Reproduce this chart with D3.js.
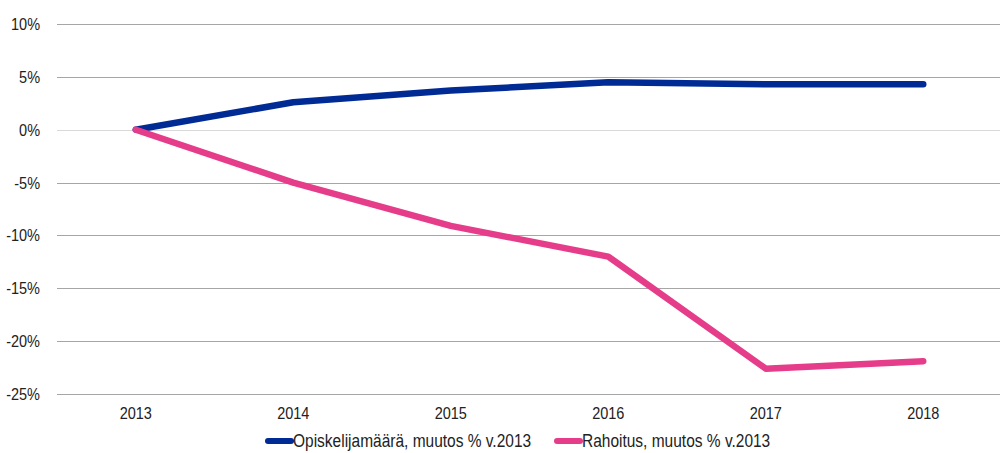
<!DOCTYPE html>
<html>
<head>
<meta charset="utf-8">
<script src="https://cdn.jsdelivr.net/npm/d3@7"></script>
<style>
  body { margin: 0; background: #fff; }
  text { font-family: "Liberation Sans", Arial, sans-serif; fill: #222; }
</style>
</head>
<body>
<div id="chart"></div>
<script>
// data
var years = ["2013", "2014", "2015", "2016", "2017", "2018"];
var opiskelijat = [0, 2.6, 3.7, 4.5, 4.3, 4.3];
var rahoitus = [0, -5.0, -9.1, -12.0, -22.6, -21.9];
var yTicks = [10, 5, 0, -5, -10, -15, -20, -25];
var seriesNames = ["Opiskelijamäärä, muutos % v.2013", "Rahoitus, muutos % v.2013"];
var seriesColors = ["#002a94", "#e63d8b"];

var width = 1000, height = 453;
var margin = { left: 57, right: -2, top: 24, bottom: 59 };
// 原图文字略高，竖向拉伸一点
var textStretch = "scale(1,1.15)";

var svg = d3.select("#chart").append("svg")
  .attr("width", width).attr("height", height)

var x = d3.scaleBand().domain(years)
  .range([margin.left, width - margin.right])
var y = d3.scaleLinear().domain([-25, 10])
  .range([height - margin.bottom, margin.top])

//网格线
var grid = svg.append("g").attr("class", "grid")
grid.selectAll("line").data(yTicks).enter().append("line")
  .attr("x1", margin.left).attr("x2", width)
  .attr("y1", d => Math.round(y(d)) + 0.5).attr("y2", d => Math.round(y(d)) + 0.5)
  .attr("stroke", d => d == 0 ? "#d9d9d9" : "#a6a6a6")
  .attr("stroke-width", 1)

//y轴
var yAxis = svg.append("g")
  .attr("transform", "translate(" + (margin.left - 14) + ",0)")
  .call(d3.axisLeft(y).tickValues(yTicks).tickSize(0).tickFormat(d => d + "%"))
yAxis.select(".domain").remove()
yAxis.selectAll("text").attr("font-size", 14.5).attr("dy", "0.33em")
  .attr("transform", textStretch)
  .style("font-family", "'Liberation Sans', Arial, sans-serif").attr("fill", "#222")

//x轴
var xAxis = svg.append("g")
  .attr("transform", "translate(0," + (height - margin.bottom + 10) + ")")
  .call(d3.axisBottom(x).tickSize(0))
xAxis.select(".domain").remove()
xAxis.selectAll("text").attr("font-size", 14.5).attr("dy", "0.71em")
  .attr("transform", textStretch)
  .style("font-family", "'Liberation Sans', Arial, sans-serif").attr("fill", "#222")

//线条
var line = d3.line()
  .x((d, i) => x(years[i]) + x.bandwidth() / 2)
  .y(d => y(d))
var series = [opiskelijat, rahoitus]
svg.append("g").selectAll("path").data(series).enter().append("path")
  .attr("d", d => line(d))
  .attr("fill", "none")
  .attr("stroke", (d, i) => seriesColors[i])
  .attr("stroke-width", 6.5)
  .attr("stroke-linecap", "round")
  .attr("stroke-linejoin", "round")

//图例
var legendX = [266, 555]
var legend = svg.append("g").selectAll("g").data(seriesNames).enter().append("g")
  .attr("transform", (d, i) => "translate(" + legendX[i] + ",441)")
legend.append("line")
  .attr("x1", 2).attr("x2", 25).attr("y1", 0).attr("y2", 0)
  .attr("stroke", (d, i) => seriesColors[i])
  .attr("stroke-width", 6)
  .attr("stroke-linecap", "round")
legend.append("text")
  .attr("x", 27).attr("dy", "0.33em")
  .attr("font-size", 15.5)
  .attr("transform", textStretch)
  .text(d => d)
</script>
</body>
</html>
